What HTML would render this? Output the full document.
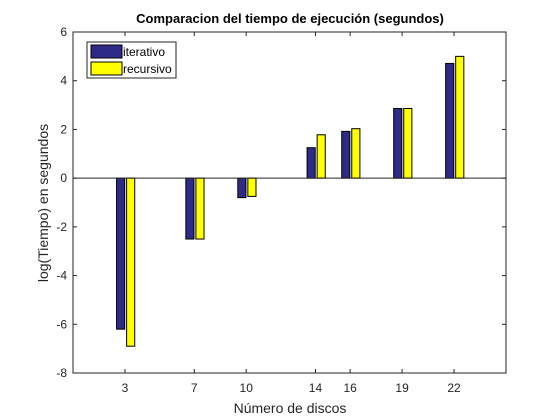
<!DOCTYPE html>
<html><head><meta charset="utf-8"><style>
body{margin:0;background:#fff}
svg{display:block;font-family:"Liberation Sans",sans-serif}
</style></head><body>
<svg id="c" width="560" height="420">
<rect x="0" y="0" width="560" height="420" fill="#fff"/>
<text x="290" y="23" text-anchor="middle" font-size="13" font-weight="bold">Comparacion del tiempo de ejecución (segundos)</text>
<rect x="73" y="32" width="433" height="341" fill="#fff" stroke="#262626" stroke-width="1"/>
<g id="bars"></g>
<g id="axes"></g>
<text x="290" y="413" text-anchor="middle" font-size="14" fill="#262626">Número de discos</text>
<text transform="translate(48,203) rotate(-90)" text-anchor="middle" font-size="14" fill="#262626">log(Tiempo) en segundos</text>
<g>
<rect x="87" y="42" width="89" height="36" fill="#fff" stroke="#262626"/>
<g>
<rect x="91" y="45" width="31" height="13" fill="#2e2b87" stroke="#000"/>
<text x="123" y="56" font-size="12">iterativo</text></g>
<g>
<rect x="91" y="62" width="31" height="13" fill="#ffff00" stroke="#000"/>
<text x="123" y="73" font-size="12">recursivo</text></g>
</g>
</svg>
<script>
const categories=[3,7,10,14,16,19,22];
const iterativo=[-6.2,-2.5,-0.8,1.25,1.92,2.86,4.71];
const recursivo=[-6.9,-2.5,-0.75,1.78,2.03,2.86,5.0];
const yTicks=[-8,-6,-4,-2,0,2,4,6];
const L=73,R=506,T=32,B=373;
const xs=v=>L+(v-0)/(25-0)*(R-L);
const ys=v=>B-(v+8)/14*(B-T);
const NS="http://www.w3.org/2000/svg";
const bars=document.getElementById('bars'),axes=document.getElementById('axes');
function mk(t,a,p){const e=document.createElementNS(NS,t);for(const k in a)e.setAttribute(k,a[k]);p.appendChild(e);return e;}
const bw=0.47*(R-L)/25;
function bar(c,v,off,fill,name){
  const x=xs(c)+off*(R-L)/25-bw/2;
  const y0=ys(0),y1=ys(v);
  const r=mk('rect',{x:x,y:Math.min(y0,y1),width:bw,height:Math.abs(y1-y0),fill:fill,stroke:'#000','stroke-width':1},bars);
  
  
}
categories.forEach((c,i)=>{
  bar(c,iterativo[i],-0.25,'#2e2b87','bar-iterativo-'+c);
  bar(c,recursivo[i],0.33,'#ffff00','bar-recursivo-'+c);
});
const zl=mk('line',{x1:L,x2:R,y1:ys(0),y2:ys(0),stroke:'#262626'},axes);


yTicks.forEach(t=>{
  const y=ys(t);
  mk('line',{x1:L,x2:L+4,y1:y,y2:y,stroke:'#262626'},axes);
  mk('line',{x1:R,x2:R-4,y1:y,y2:y,stroke:'#262626'},axes);
  const tx=mk('text',{x:L-6,y:y+4,'text-anchor':'end','font-size':12,fill:'#262626'},axes);
  tx.textContent=t;
  
  
});
categories.forEach(c=>{
  const x=xs(c);
  mk('line',{x1:x,x2:x,y1:B,y2:B-4,stroke:'#262626'},axes);
  mk('line',{x1:x,x2:x,y1:T,y2:T+4,stroke:'#262626'},axes);
  const tx=mk('text',{x:x,y:B+19,'text-anchor':'middle','font-size':12,fill:'#262626'},axes);
  tx.textContent=c;
  
  
});
</script>
</body></html>
